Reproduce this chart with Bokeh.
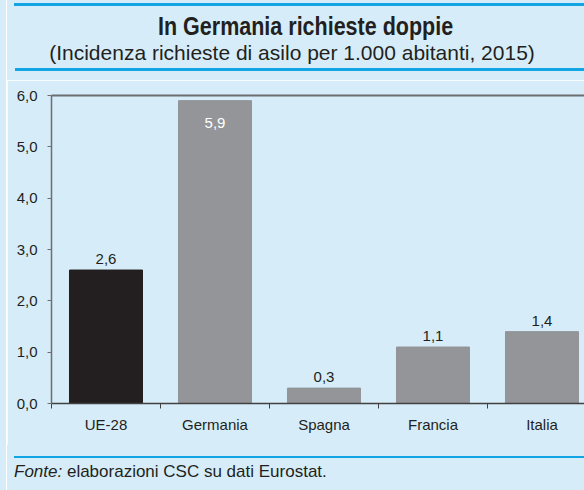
from bokeh.plotting import figure
from bokeh.models import ColumnDataSource, Range1d, FixedTicker, LinearAxis, Div
from bokeh.layouts import column, row
from bokeh.embed import file_html
from bokeh.resources import INLINE

# ---- data ----
categories = ["UE-28", "Germania", "Spagna", "Francia", "Italia"]
values = [2.6, 5.9, 0.3, 1.1, 1.4]
value_labels = ["2,6", "5,9", "0,3", "1,1", "1,4"]
y_ticks = [0, 1, 2, 3, 4, 5, 6]
y_tick_labels = ["0,0", "1,0", "2,0", "3,0", "4,0", "5,0", "6,0"]
title_text = "In Germania richieste doppie"
subtitle_text = "(Incidenza richieste di asilo per 1.000 abitanti, 2015)"
source_italic = "Fonte:"
source_text = "elaborazioni CSC su dati Eurostat."

# ---- styles ----
BG = "#d6edf9"
BLUE = "#12a5e4"
BLACK_BAR = "#231f20"
GRAY_BAR = "#939598"
AXIS_GRAY = "#6d6e71"
TEXT = "#231f20"
REG = "Liberation Sans"
CW = 577  # content width

x = [i + 0.5 for i in range(len(categories))]
colors = [BLACK_BAR] + [GRAY_BAR] * (len(categories) - 1)
inside = [v > 5.5 for v in values]
lab_colors = ["white" if f else TEXT for f in inside]
lab_offsets = [22 if f else -11 for f in inside]

src = ColumnDataSource(dict(x=x, top=values, color=colors, lab=value_labels,
                            lab_color=lab_colors, yoff=lab_offsets))

p = figure(width=CW, height=365, output_backend="svg", toolbar_location=None,
           x_range=Range1d(0, 4.89), y_range=Range1d(0, 6),
           x_axis_type=None, y_axis_type=None,
           min_border_left=44, min_border_right=0, min_border_top=15,
           min_border_bottom=42, margin=0)
p.background_fill_color = BG
p.border_fill_color = BG
p.outline_line_color = None
p.xgrid.visible = False
p.ygrid.visible = False

p.vbar(x="x", top="top", width=0.67, bottom=0, color="color", source=src)
p.text(x="x", y="top", text="lab", text_color="lab_color", y_offset="yoff",
       text_align="center", text_baseline="alphabetic",
       text_font={"value": REG}, text_font_size="15px", source=src)

# x axis
xax = LinearAxis(ticker=FixedTicker(ticks=x, minor_ticks=list(range(len(categories) + 1))))
xax.major_label_overrides = {xi: c for xi, c in zip(x, categories)}
xax.major_tick_line_color = None
xax.major_tick_out = 0
xax.major_tick_in = 0
xax.minor_tick_out = 5
xax.minor_tick_in = 0
xax.minor_tick_line_color = "#414042"
xax.axis_line_color = "#414042"
xax.axis_line_width = 1.5
xax.major_label_standoff = 7
xax.major_label_text_font = REG
xax.major_label_text_font_size = "15px"
xax.major_label_text_color = TEXT
p.add_layout(xax, "below")

# y axis
yax = LinearAxis(ticker=FixedTicker(ticks=y_ticks))
yax.major_label_overrides = {t: l for t, l in zip(y_ticks, y_tick_labels)}
yax.axis_line_color = AXIS_GRAY
yax.axis_line_width = 1.5
yax.major_tick_line_color = AXIS_GRAY
yax.major_tick_out = 4
yax.major_tick_in = 0
yax.minor_tick_line_color = None
yax.major_label_standoff = 10
yax.major_label_text_font = REG
yax.major_label_text_font_size = "15px"
yax.major_label_text_color = TEXT
p.add_layout(yax, "left")

# top frame line
tax = LinearAxis(ticker=FixedTicker(ticks=[]))
tax.axis_line_color = AXIS_GRAY
tax.axis_line_width = 2
tax.major_tick_line_color = None
tax.minor_tick_line_color = None
tax.major_tick_out = 0
tax.major_label_standoff = 0
tax.major_label_text_font_size = "0px"
p.add_layout(tax, "above")

head_html = f"""
<div style="position:relative;width:{CW}px;height:80px;overflow:hidden;">
  <div style="position:absolute;left:7px;top:3px;width:{CW-7}px;height:3px;background:{BLUE};"></div>
  <div style="position:absolute;left:99px;top:14px;width:400px;text-align:center;white-space:nowrap;
       font-family:'Liberation Sans',sans-serif;font-weight:bold;font-size:25px;line-height:25px;color:{TEXT};">
       <span style="display:inline-block;transform:scaleX(0.86);transform-origin:50% 50%;">{title_text}</span></div>
  <div style="position:absolute;left:35px;top:42px;width:500px;text-align:center;white-space:nowrap;
       font-family:'Liberation Sans',sans-serif;font-size:21px;line-height:21px;color:{TEXT};">{subtitle_text}</div>
  <div style="position:absolute;left:8px;top:68px;width:{CW-8}px;height:3px;background:{BLUE};"></div>
</div>"""

foot_html = f"""
<div style="position:relative;width:{CW}px;height:45px;overflow:hidden;">
  <div style="position:absolute;left:7px;top:11px;width:{CW-7}px;height:2px;background:{BLUE};"></div>
  <div style="position:absolute;left:7px;top:18px;white-space:nowrap;
       font-family:'Liberation Sans',sans-serif;font-size:17px;line-height:17px;color:{TEXT};"><i>{source_italic}</i> {source_text}</div>
</div>"""

head = Div(text=head_html, width=CW, height=80, margin=0, styles={"background-color": BG})
foot = Div(text=foot_html, width=CW, height=45, margin=0, styles={"background-color": BG})
strip_bg = Div(text="", width=6, height=490, margin=0, styles={"background-color": BG})
strip_white = Div(text="", width=1, height=490, margin=0, styles={"background-color": "white"})

layout = row(strip_bg, strip_white, column(head, p, foot, spacing=0), spacing=0)

open("out.html", "w").write(file_html(layout, INLINE))
